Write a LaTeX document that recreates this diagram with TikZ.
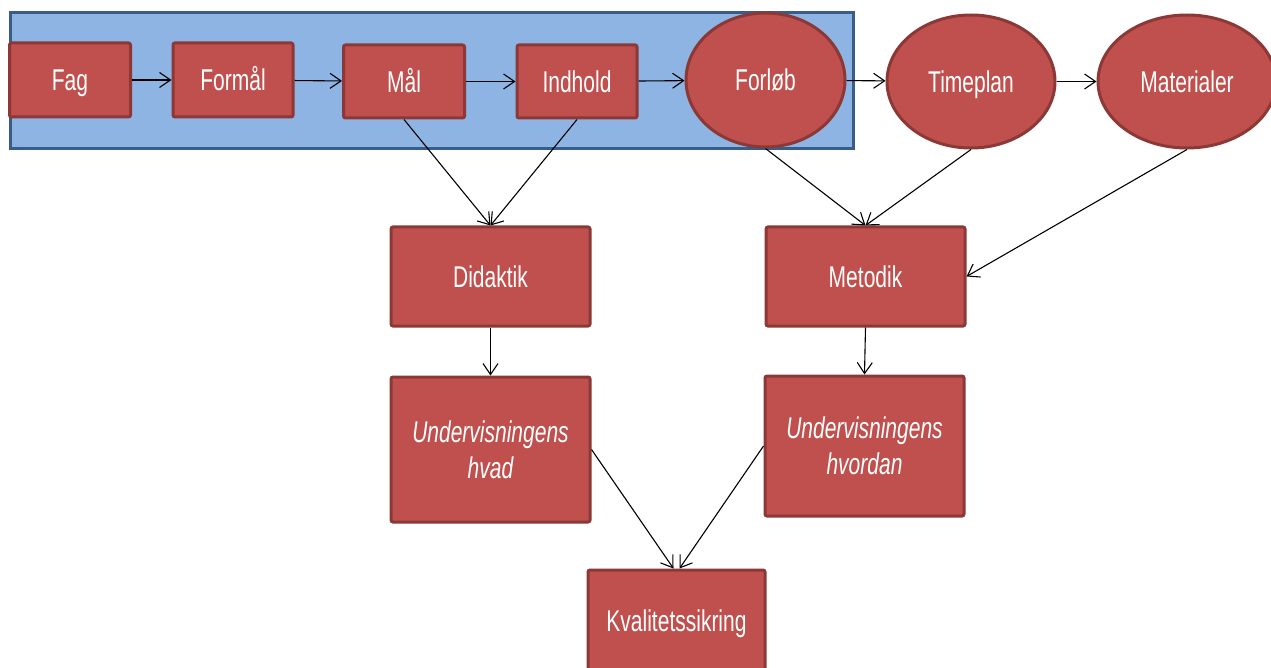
\documentclass[tikz,border=0pt]{standalone}
\usepackage{fontspec}
\setmainfont{Liberation Sans}[FakeStretch=0.7]
\usetikzlibrary{shapes.geometric,arrows.meta}
\definecolor{redfill}{RGB}{192,80,77}
\definecolor{reddraw}{RGB}{140,56,54}
\definecolor{bluefill}{RGB}{141,180,226}
\definecolor{bluedraw}{RGB}{56,93,138}
\begin{document}
\begin{tikzpicture}[x=1pt,y=-1pt,
  box/.style={rectangle,rounded corners=2pt,fill=redfill,draw=reddraw,line width=3pt,
    text=white,inner sep=0pt,font=\fontsize{30}{36}\selectfont},
  onel/.style={text height=21.5pt,text depth=0pt},
  oval/.style={ellipse,fill=redfill,draw=reddraw,line width=3pt,text=white,inner sep=0pt,
    font=\fontsize{30}{36}\selectfont,text height=21.5pt,text depth=0pt},
  conn/.style={draw=black,line width=1.1pt,-{Straight Barb[length=11pt,width=15pt,line width=1.1pt]}}]
\useasboundingbox (0,0) rectangle (1271,668);
\fill[white] (0,0) rectangle (1271,668);
\node[rectangle,fill=bluefill,draw=bluedraw,line width=3pt,minimum width=843pt,minimum height=136pt,inner sep=0pt] (band) at (431.5,81) {};
\node[box,onel,minimum width=121pt,minimum height=74pt] (fag) at (70,80) {Fag};
\node[box,onel,minimum width=120pt,minimum height=74pt] (formal) at (233,80) {Formål};
\node[box,onel,minimum width=121pt,minimum height=73pt] (mal) at (404,81.5) {Mål};
\node[box,onel,minimum width=120pt,minimum height=73pt] (indhold) at (577,81.5) {Indhold};
\node[oval,minimum width=159pt,minimum height=134pt] (forlob) at (765.5,80) {Forløb};
\node[oval,minimum width=168pt,minimum height=133pt] (timeplan) at (971,81.5) {Timeplan};
\node[oval,minimum width=178pt,minimum height=133pt] (materialer) at (1187,81.5) {Materialer};
\node[box,onel,minimum width=199pt,minimum height=99pt] (didaktik) at (490.5,276.5) {Didaktik};
\node[box,onel,minimum width=199pt,minimum height=99pt] (metodik) at (865.5,276.5) {Metodik};
\node[box,align=center,minimum width=199pt,minimum height=145pt] (hvad) at (490.5,449.5) {\itshape Undervisningens\\\itshape hvad};
\node[box,align=center,minimum width=199pt,minimum height=140pt] (hvordan) at (864.5,446) {\itshape Undervisningens\\\itshape hvordan};
\node[box,onel,minimum width=177pt,minimum height=102pt] (kval) at (676.5,621) {Kvalitetssikring};
\draw[conn] (fag) -- (formal);
\draw[conn] (formal) -- (mal);
\draw[conn] (mal) -- (indhold);
\draw[conn] (indhold) -- (forlob);
\draw[conn] (forlob) -- (timeplan);
\draw[conn] (timeplan) -- (materialer);
\draw[conn] (mal.south) -- (didaktik.north);
\draw[conn] (indhold.south) -- (didaktik.north);
\draw[conn] (forlob.south) -- (metodik.north);
\draw[conn] (timeplan.south) -- (metodik.north);
\draw[conn] (materialer.south) -- (metodik.east);
\draw[conn] (didaktik.south) -- (hvad.north);
\draw[conn] (metodik.south) -- (hvordan.north);
\draw[conn] (hvad.east) -- ([xshift=-3pt]kval.north);
\draw[conn] (hvordan.west) -- ([xshift=3pt]kval.north);
\end{tikzpicture}
\end{document}
